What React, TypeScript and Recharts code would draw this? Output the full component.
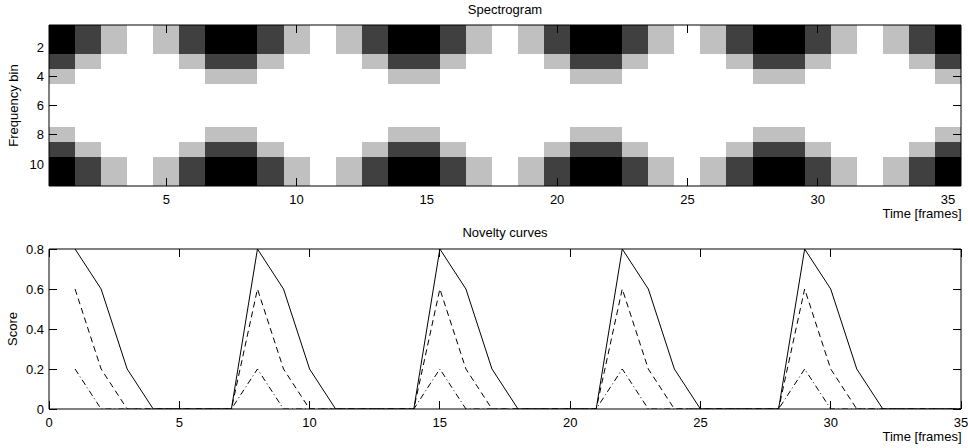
import { Line, LineChart, ReferenceArea, Scatter, ScatterChart, XAxis, YAxis } from 'recharts';

const FONT = '"Liberation Sans", Arial, Helvetica, sans-serif';

// gray colormap, index = intensity level
const grayLevels = ['#ffffff', '#c0c0c0', '#404040', '#000000'];

// spectrogram levels, one string per frequency bin (1..11), one digit per frame (1..35)
const spectrogramRows = [
  '32101233210123321012332101233210123',
  '32101233210123321012332101233210123',
  '21000122100012210001221000122100012',
  '10000011000001100000110000011000001',
  '00000000000000000000000000000000000',
  '00000000000000000000000000000000000',
  '00000000000000000000000000000000000',
  '10000011000001100000110000011000001',
  '21000122100012210001221000122100012',
  '32101233210123321012332101233210123',
  '32101233210123321012332101233210123',
];

const noveltyFrames = [
  1, 2, 3, 4, 5, 6, 7, 8, 9, 10, 11, 12, 13, 14, 15, 16, 17, 18, 19, 20, 21, 22, 23, 24, 25, 26, 27,
  28, 29, 30, 31, 32, 33, 34, 35,
];
const noveltySolid = [
  0.8, 0.6, 0.2, 0, 0, 0, 0, 0.8, 0.6, 0.2, 0, 0, 0, 0, 0.8, 0.6, 0.2, 0, 0, 0, 0, 0.8, 0.6, 0.2, 0,
  0, 0, 0, 0.8, 0.6, 0.2, 0, 0, 0, 0,
];
const noveltyDashed = [
  0.6, 0.2, 0, 0, 0, 0, 0, 0.6, 0.2, 0, 0, 0, 0, 0, 0.6, 0.2, 0, 0, 0, 0, 0, 0.6, 0.2, 0, 0, 0, 0, 0,
  0.6, 0.2, 0, 0, 0, 0, 0,
];
const noveltyDashDot = [
  0.2, 0, 0, 0, 0, 0, 0, 0.2, 0, 0, 0, 0, 0, 0, 0.2, 0, 0, 0, 0, 0, 0, 0.2, 0, 0, 0, 0, 0, 0, 0.2, 0,
  0, 0, 0, 0, 0,
];

const spectroFrameTicks = [5, 10, 15, 20, 25, 30, 35];
const binTicks = [2, 4, 6, 8, 10];
const noveltyFrameTicks = [0, 5, 10, 15, 20, 25, 30, 35];
const scoreTicks = [0, 0.2, 0.4, 0.6, 0.8];

const cells = spectrogramRows.flatMap((row, b) =>
  row.split('').map((level, f) => ({ frame: f + 1, bin: b + 1, level: Number(level) })),
);

const noveltyData = noveltyFrames.map((frame, i) => ({
  frame,
  solid: noveltySolid[i],
  dashed: noveltyDashed[i],
  dashDot: noveltyDashDot[i],
}));

const TICK_LEN = 8;
const X_GAP = 8.5; // axis line -> top of x tick label
const Y_GAP = 5; // axis line -> right edge of y tick label
const labelText = { fontSize: 13, fill: '#000', fontFamily: FONT };
const tickStroke = { stroke: '#000', strokeWidth: 1 };

// keep 1px tick marks on the pixel grid
const crisp = (v: number) => Math.floor(v) + 0.5;

// inward tick + label below the axis
function BottomTick({ x, y, payload }: any) {
  const axisY = y - X_GAP;
  return (
    <g>
      <line x1={crisp(x)} x2={crisp(x)} y1={axisY} y2={axisY - TICK_LEN} {...tickStroke} />
      <text x={x} y={y} dy="0.71em" textAnchor="middle" {...labelText}>
        {payload.value}
      </text>
    </g>
  );
}

// inward tick + label left of the axis
function LeftTick({ x, y, payload }: any) {
  const axisX = x + Y_GAP;
  return (
    <g>
      <line x1={axisX} x2={axisX + TICK_LEN} y1={crisp(y)} y2={crisp(y)} {...tickStroke} />
      <text x={x} y={y} dy="0.355em" textAnchor="end" {...labelText}>
        {payload.value}
      </text>
    </g>
  );
}

// mirrored ticks on the box edges, no labels
function TopTick({ x, y }: any) {
  return <line x1={crisp(x)} x2={crisp(x)} y1={y} y2={y + TICK_LEN} {...tickStroke} />;
}

function RightTick({ x, y }: any) {
  return <line x1={x} x2={x - TICK_LEN} y1={crisp(y)} y2={crisp(y)} {...tickStroke} />;
}

function Spectrogram() {
  return (
    <ScatterChart width={968} height={225} margin={{ top: 24, right: 6, bottom: 0, left: 0 }}>
      {cells
        .filter((c) => c.level > 0)
        .map((c) => (
          <ReferenceArea
            key={`${c.frame}-${c.bin}`}
            x1={c.frame - 0.5}
            x2={c.frame + 0.5}
            y1={c.bin - 0.5}
            y2={c.bin + 0.5}
            fill={grayLevels[c.level]}
            fillOpacity={1}
            stroke="none"
          />
        ))}
      <Scatter data={cells} dataKey="bin" shape={() => <g />} isAnimationActive={false} />
      <XAxis
        dataKey="frame"
        type="number"
        domain={[0.5, 35.5]}
        ticks={spectroFrameTicks}
        allowDataOverflow
        interval={0}
        height={39}
        stroke="#000"
        tickLine={false}
        tickSize={0}
        tickMargin={X_GAP}
        tick={BottomTick}
        label={{ value: 'Time [frames]', position: 'insideBottomRight', offset: 7.5, dx: 8, ...labelText }}
      />
      <XAxis
        xAxisId="top"
        orientation="top"
        dataKey="frame"
        type="number"
        domain={[0.5, 35.5]}
        ticks={spectroFrameTicks}
        allowDataOverflow
        interval={0}
        height={1}
        stroke="#000"
        tickLine={false}
        tickSize={0}
        tickMargin={0}
        tick={TopTick}
        label={{ value: 'Spectrogram', position: 'top', offset: 10, ...labelText }}
      />
      <YAxis
        dataKey="bin"
        type="number"
        reversed
        domain={[0.5, 11.5]}
        ticks={binTicks}
        allowDataOverflow
        interval={0}
        width={49}
        stroke="#000"
        tickLine={false}
        tickSize={0}
        tickMargin={Y_GAP}
        tick={LeftTick}
        label={{
          value: 'Frequency bin',
          angle: -90,
          position: 'insideLeft',
          offset: 13.5,
          style: { textAnchor: 'middle' },
          ...labelText,
        }}
      />
      <YAxis
        yAxisId="right"
        orientation="right"
        dataKey="bin"
        type="number"
        reversed
        domain={[0.5, 11.5]}
        ticks={binTicks}
        allowDataOverflow
        interval={0}
        width={1}
        stroke="#000"
        tickLine={false}
        tickSize={0}
        tickMargin={0}
        tick={RightTick}
      />
    </ScatterChart>
  );
}

function NoveltyCurves() {
  return (
    <LineChart
      width={968}
      height={223}
      data={noveltyData}
      margin={{ top: 23, right: 6, bottom: 0, left: 0 }}
    >
      <XAxis
        dataKey="frame"
        type="number"
        domain={[0, 35]}
        ticks={noveltyFrameTicks}
        allowDataOverflow
        interval={0}
        height={39}
        stroke="#000"
        tickLine={false}
        tickSize={0}
        tickMargin={X_GAP}
        tick={BottomTick}
        label={{ value: 'Time [frames]', position: 'insideBottomRight', offset: 7.5, dx: 8, ...labelText }}
      />
      <XAxis
        xAxisId="top"
        orientation="top"
        dataKey="frame"
        type="number"
        domain={[0, 35]}
        ticks={noveltyFrameTicks}
        allowDataOverflow
        interval={0}
        height={1}
        stroke="#000"
        tickLine={false}
        tickSize={0}
        tickMargin={0}
        tick={TopTick}
        label={{ value: 'Novelty curves', position: 'top', offset: 11, ...labelText }}
      />
      <YAxis
        type="number"
        domain={[0, 0.8]}
        ticks={scoreTicks}
        allowDataOverflow
        interval={0}
        width={49}
        stroke="#000"
        tickLine={false}
        tickSize={0}
        tickMargin={Y_GAP}
        tick={LeftTick}
        label={{
          value: 'Score',
          angle: -90,
          position: 'insideLeft',
          offset: 12.5,
          style: { textAnchor: 'middle' },
          ...labelText,
        }}
      />
      <YAxis
        yAxisId="right"
        orientation="right"
        type="number"
        domain={[0, 0.8]}
        ticks={scoreTicks}
        allowDataOverflow
        interval={0}
        width={1}
        stroke="#000"
        tickLine={false}
        tickSize={0}
        tickMargin={0}
        tick={RightTick}
      />
      <Line type="linear" dataKey="solid" stroke="#000" strokeWidth={1} dot={false} activeDot={false} isAnimationActive={false} />
      <Line
        type="linear"
        dataKey="dashed"
        stroke="#000"
        strokeWidth={1}
        strokeDasharray="6 4"
        dot={false}
        activeDot={false}
        isAnimationActive={false}
      />
      <Line
        type="linear"
        dataKey="dashDot"
        stroke="#000"
        strokeWidth={1}
        strokeDasharray="6 3 1 3"
        dot={false}
        activeDot={false}
        isAnimationActive={false}
      />
    </LineChart>
  );
}

export default function App() {
  return (
    <div
      style={{
        position: 'absolute',
        left: 0,
        top: 0,
        width: 968,
        height: 448,
        background: '#fff',
        fontFamily: FONT,
      }}
    >
      <style>{'.recharts-reference-area rect, .recharts-reference-area path { shape-rendering: crispEdges; }'}</style>
      <div style={{ position: 'absolute', left: 0, top: 0 }}>
        <Spectrogram />
      </div>
      <div style={{ position: 'absolute', left: 0, top: 225 }}>
        <NoveltyCurves />
      </div>
    </div>
  );
}
